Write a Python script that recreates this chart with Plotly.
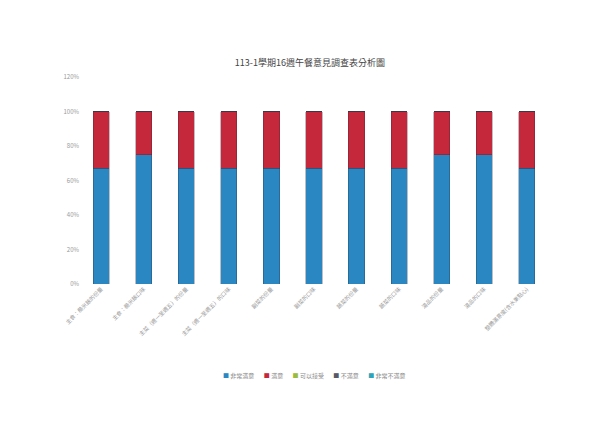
import plotly.graph_objects as go

categories = ["主食：糙米飯的份量", "主食：糙米飯口味", "主菜（週一至週五）的份量", "主菜（週一至週五）的口味",
              "副菜的份量", "副菜的口味", "蔬菜的份量", "蔬菜的口味", "湯品的份量", "湯品的口味", "整體滿意度(含水果點心)"]
very_satisfied = [67, 75, 67, 67, 67, 67, 67, 67, 75, 75, 67]
satisfied = [33, 25, 33, 33, 33, 33, 33, 33, 25, 25, 33]
acceptable = [0] * 11
unsatisfied = [0] * 11
very_unsatisfied = [0] * 11

series = [
    ("非常滿意", very_satisfied, "#2a87c2"),
    ("滿意", satisfied, "#c4283a"),
    ("可以接受", acceptable, "#9bbb3b"),
    ("不滿意", unsatisfied, "#555a66"),
    ("非常不滿意", very_unsatisfied, "#2fa3b8"),
]

fig = go.Figure()
for name, vals, color in series:
    fig.add_trace(go.Bar(
        x=categories, y=vals, name=name, showlegend=False,
        marker=dict(color=color, line=dict(color="rgba(40,40,60,0.6)", width=0.5)),
    ))

legend_text = "&nbsp;&nbsp;&nbsp;&nbsp;&nbsp;&nbsp;&nbsp;".join(
    f'<span style="color:{color}">■</span>&nbsp;{name}' for name, _, color in series
)
fig.add_annotation(text=legend_text, xref="paper", yref="paper", x=0.5, y=-0.44,
                   xanchor="center", yanchor="middle", showarrow=False,
                   font=dict(size=6, color="#888888"))

fig.update_layout(
    barmode="stack",
    bargap=0.62,
    width=592, height=417,
    margin=dict(l=72, r=52, t=69, b=141),
    paper_bgcolor="#ffffff",
    plot_bgcolor="#ffffff",
    font=dict(family="Noto Sans CJK TC", color="#888888", size=6),
    title=dict(text="113-1學期16週午餐意見調查表分析圖", x=0.51, xanchor="center", y=0.868, yanchor="middle",
               font=dict(size=9, color="#444444")),
    xaxis=dict(tickangle=-45, showline=False, showgrid=False, ticks="", tickfont=dict(size=5.5, color="#999999")),
    yaxis=dict(range=[0, 120], dtick=20, ticksuffix="%", showgrid=False, zeroline=False,
               showline=False, tickfont=dict(size=6, color="#999999")),
)

fig.write_html("out.html")
